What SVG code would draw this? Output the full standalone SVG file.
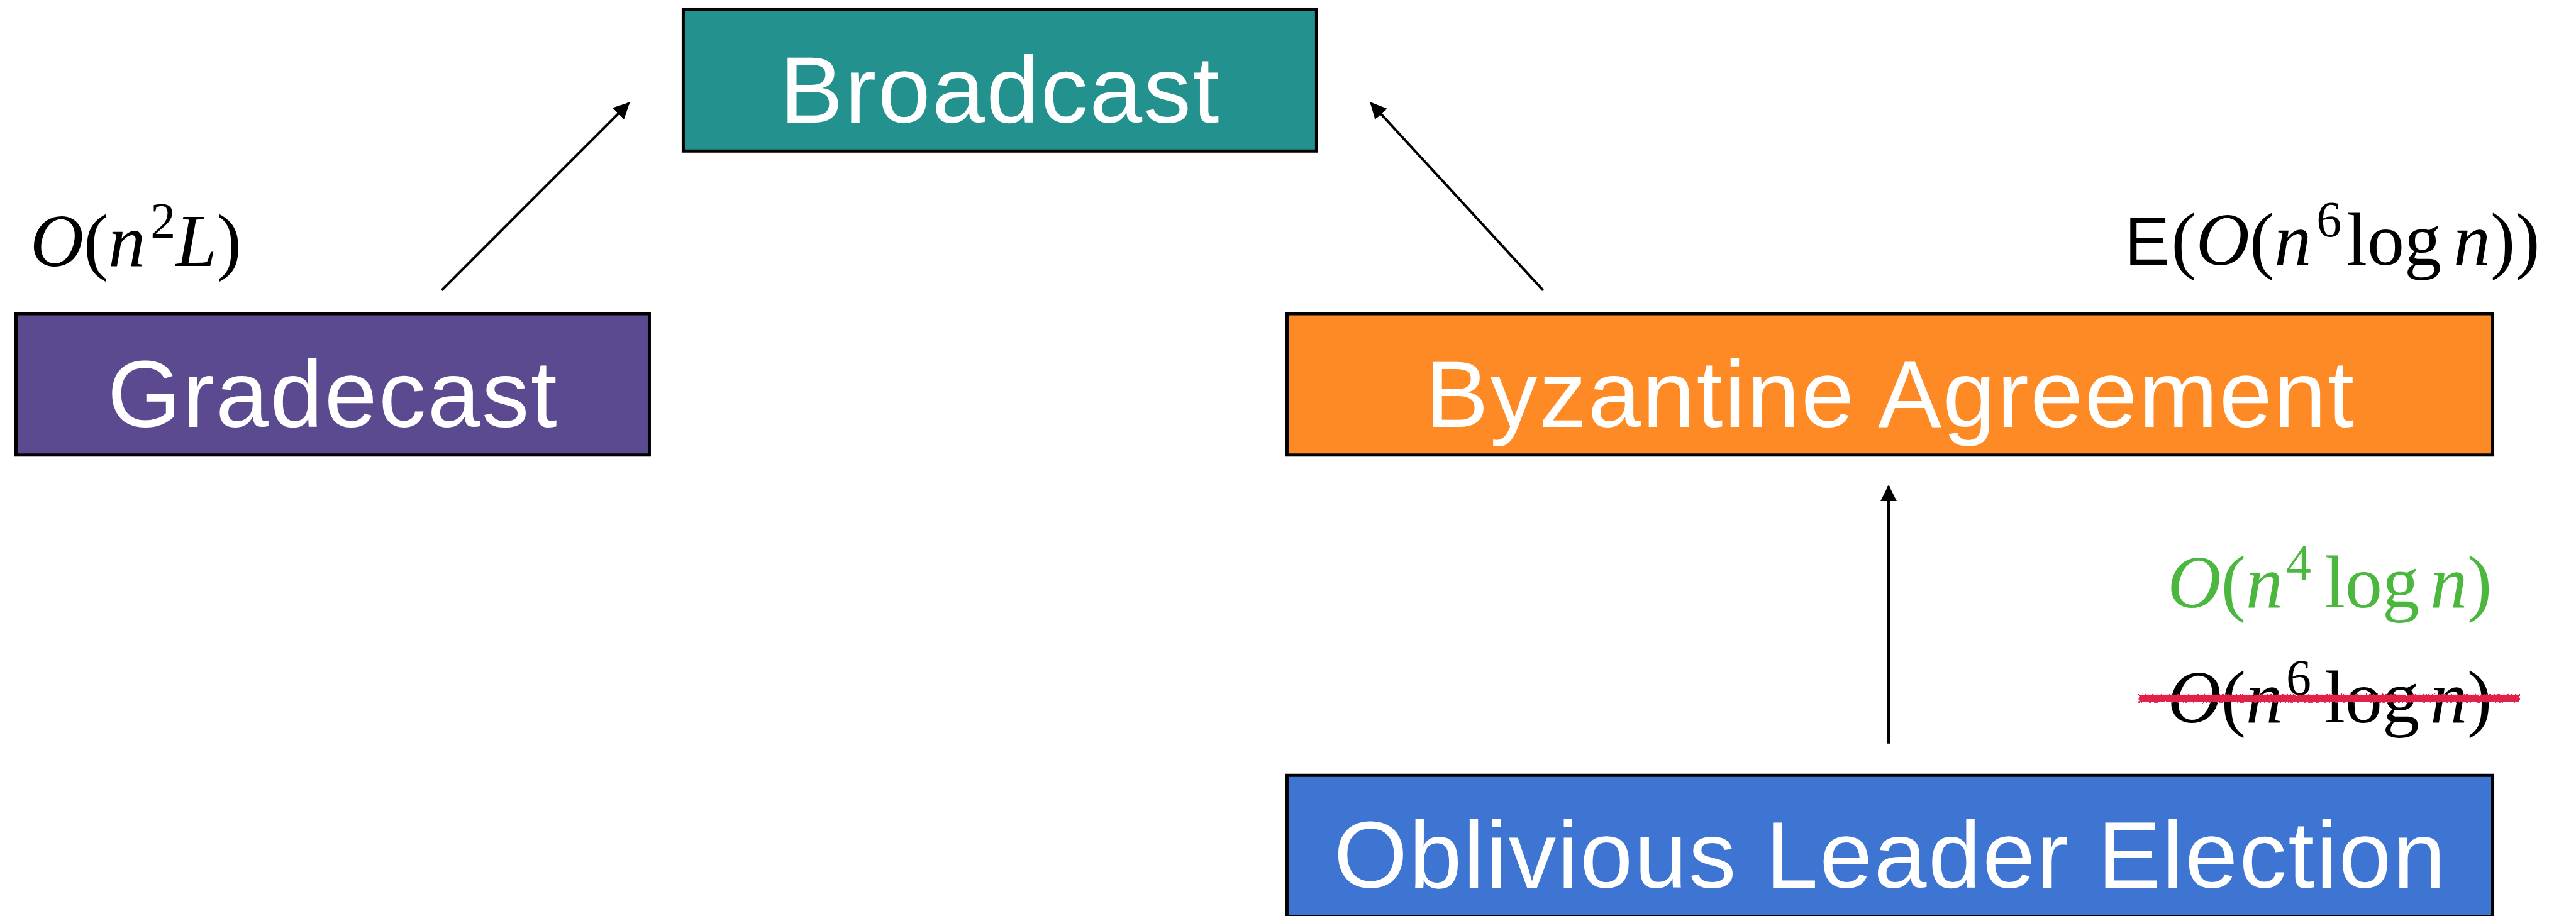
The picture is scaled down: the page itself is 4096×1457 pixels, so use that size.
<svg xmlns="http://www.w3.org/2000/svg" width="4096" height="1457" viewBox="0 0 4096 1457">
  <defs>
    <style>
      .box { stroke: #000; stroke-width: 5; }
      .label { font-family: "Liberation Sans", Arial, sans-serif; font-size: 151px; fill: #fff; text-anchor: middle; letter-spacing: 2.4px; }
      .math { font-family: "Liberation Serif", "Times New Roman", serif; font-size: 118px; fill: #000; }
      .math .i { font-style: italic; }
      .math .sup { font-size: 80px; }
      .expect { font-family: "Liberation Sans", Arial, sans-serif; font-size: 107px; }
      .edge { stroke: #000; stroke-width: 4; fill: none; marker-end: url(#head); }
    </style>
    <marker id="head" markerUnits="userSpaceOnUse" markerWidth="26" markerHeight="26" refX="24" refY="13" orient="auto">
      <path d="M0,0 L26,13 L0,26 z" fill="#000"/>
    </marker>
    <filter id="marker-rough" filterUnits="userSpaceOnUse" x="3380" y="1080" width="660" height="64">
      <feTurbulence type="fractalNoise" baseFrequency="0.35" numOctaves="2" seed="3" result="noise"/>
      <feDisplacementMap in="SourceGraphic" in2="noise" scale="6" xChannelSelector="R" yChannelSelector="G"/>
    </filter>
  </defs>

  <rect x="0" y="0" width="4096" height="1457" fill="#fff"/>

  <g transform="scale(0.999)">
    <!-- connectors -->
    <g id="connectors">
      <line class="edge" x1="703" y1="462" x2="1001" y2="164"/>
      <line class="edge" x1="2456" y1="462" x2="2182" y2="164"/>
      <line class="edge" x1="3006" y1="1184" x2="3006" y2="774"/>
    </g>

    <!-- nodes -->
    <g id="broadcast">
      <rect class="box" x="1087.5" y="14.5" width="1008" height="226" fill="#23918d"/>
      <text class="label" x="1592" y="195">Broadcast</text>
    </g>

    <g id="gradecast">
      <rect class="box" x="25.5" y="499.5" width="1008" height="225" fill="#5b4a8f"/>
      <text class="label" x="530" y="680">Gradecast</text>
    </g>

    <g id="byzantine-agreement">
      <rect class="box" x="2048.5" y="499.5" width="1919" height="225" fill="#fe8a25"/>
      <text class="label" x="3009" y="680">Byzantine Agreement</text>
    </g>

    <g id="oblivious-leader-election">
      <rect class="box" x="2048.5" y="1234.5" width="1919" height="225" fill="#3e74d2"/>
      <text class="label" x="3009" y="1413">Oblivious Leader Election</text>
    </g>

    <!-- complexity labels -->
    <g id="cost-gradecast">
      <text class="math" x="48" y="423"><tspan class="i">O</tspan>(<tspan class="i">n</tspan><tspan class="sup" dx="8" dy="-45">2</tspan><tspan class="i" dy="45">L</tspan>)</text>
    </g>

    <g id="cost-byzantine">
      <text class="math" x="3382" y="421"><tspan class="expect">E</tspan><tspan x="3456">(</tspan><tspan class="i">O</tspan>(<tspan class="i">n</tspan><tspan class="sup" dx="8" dy="-45">6</tspan><tspan x="3735" dy="45">log</tspan><tspan class="i" x="3905">n</tspan>))</text>
    </g>

    <g id="cost-leader-new">
      <text class="math" x="3450" y="967" style="fill:#4bb73e"><tspan class="i">O</tspan>(<tspan class="i">n</tspan><tspan class="sup" dx="5" dy="-44">4</tspan><tspan x="3700" dy="44">log</tspan><tspan class="i" x="3868">n</tspan>)</text>
    </g>

    <g id="cost-leader-old">
      <text class="math" x="3450" y="1150"><tspan class="i">O</tspan>(<tspan class="i">n</tspan><tspan class="sup" dx="5" dy="-44">6</tspan><tspan x="3700" dy="44">log</tspan><tspan class="i" x="3868">n</tspan>)</text>
      <!-- hand-drawn strike-through -->
      <rect x="3404" y="1106" width="606" height="12" fill="#e0204a" filter="url(#marker-rough)"/>
    </g>
  </g>
</svg>
